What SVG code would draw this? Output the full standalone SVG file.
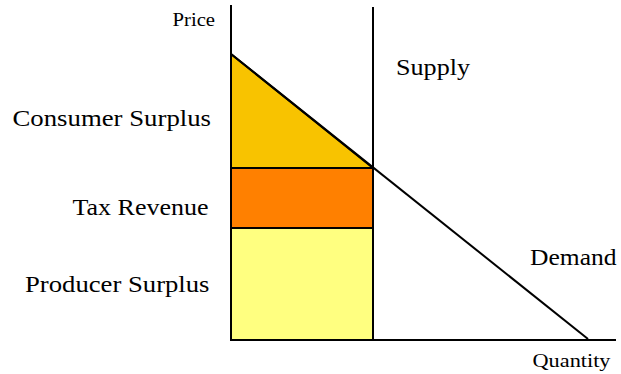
<svg xmlns="http://www.w3.org/2000/svg" width="621" height="374" viewBox="0 0 621 374">
<style>
.lbl{font-family:"Liberation Serif","DejaVu Serif",serif;fill:#000}
.big{font-size:24px}
.small{font-size:19px}
.ln{stroke:#000;stroke-width:2;fill:none}
.area{stroke:#000;stroke-width:2}
</style>
<rect width="621" height="374" fill="#fff"/>
<g id="areas">
<g id="consumer-surplus"><polygon class="area" points="231,54 373,168 231,168" fill="#F8C300"/></g>
<g id="tax-revenue"><rect class="area" x="231" y="168" width="142" height="60" fill="#FF8000"/></g>
<g id="producer-surplus"><rect class="area" x="231" y="228" width="142" height="112" fill="#FFFF80"/></g>
</g>
<g id="connectors">
<line class="ln" x1="231" y1="5" x2="231" y2="341"/>
<line class="ln" x1="230" y1="340" x2="616" y2="340"/>
<line class="ln" x1="373" y1="7" x2="373" y2="340"/>
<line class="ln" x1="231" y1="54" x2="588" y2="339"/>
</g>
<g id="labels">
<text class="lbl small" x="172.5" y="26" textLength="42.5" lengthAdjust="spacingAndGlyphs">Price</text>
<text class="lbl big" x="12.5" y="126" textLength="198.5" lengthAdjust="spacingAndGlyphs">Consumer Surplus</text>
<text class="lbl big" x="72.5" y="215" textLength="136" lengthAdjust="spacingAndGlyphs">Tax Revenue</text>
<text class="lbl big" x="25" y="291.5" textLength="184.5" lengthAdjust="spacingAndGlyphs">Producer Surplus</text>
<text class="lbl big" x="396" y="75" textLength="74" lengthAdjust="spacingAndGlyphs">Supply</text>
<text class="lbl big" x="530" y="265" textLength="86.5" lengthAdjust="spacingAndGlyphs">Demand</text>
<text class="lbl small" x="532.5" y="367" textLength="78" lengthAdjust="spacingAndGlyphs">Quantity</text>
</g>
</svg>
